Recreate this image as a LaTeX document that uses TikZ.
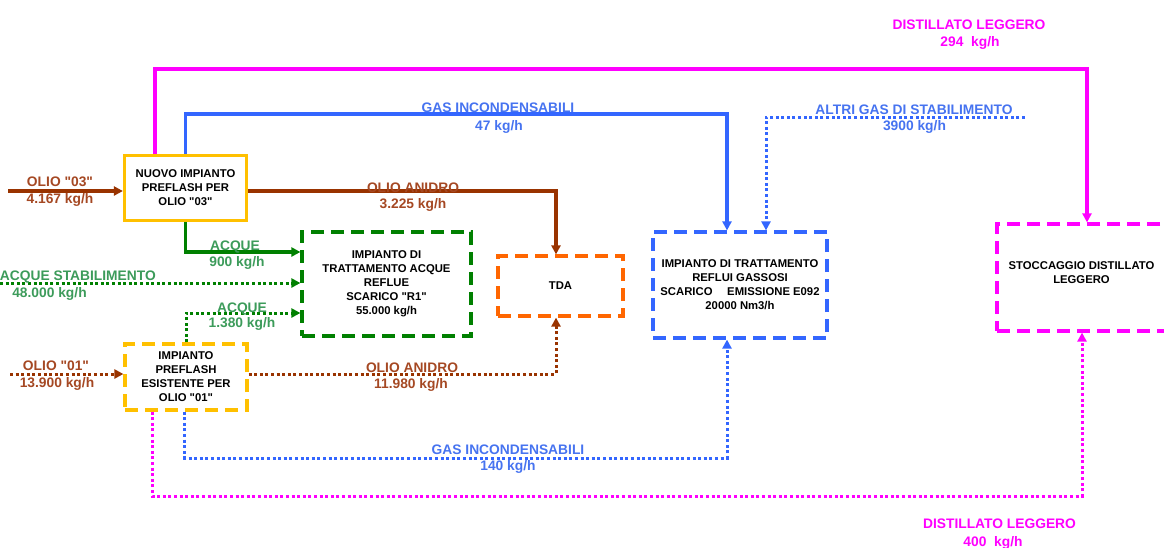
\documentclass[tikz,border=0pt]{standalone}
\usepackage{fontspec}
\setmainfont{Liberation Sans}[Ligatures=TeXOff]
\usetikzlibrary{arrows.meta}
\definecolor{brn}{RGB}{153,51,0}
\definecolor{brntxt}{RGB}{165,72,35}
\definecolor{grn}{RGB}{0,128,0}
\definecolor{grntxt}{RGB}{60,155,90}
\definecolor{blu}{RGB}{51,102,255}
\definecolor{blutxt}{RGB}{70,115,240}
\definecolor{mag}{RGB}{255,0,255}
\definecolor{yel}{RGB}{255,192,0}
\definecolor{org}{RGB}{255,102,0}
\begin{document}
\begin{tikzpicture}[x=1pt,y=-1pt,
  solidline/.style={line width=3.3pt},
  dotline/.style={line width=3pt, dash pattern=on 3pt off 2.6pt},
  arrowed/.style={-{Triangle[length=9pt,width=9pt]}},
  box/.style={draw, line width=3.2pt, fill=white, align=center,
    font=\fontsize{11.3}{14}\selectfont\bfseries, inner sep=0pt},
  dbox/.style={box, dash pattern=on 13pt off 7pt},
  boxtxt/.style={align=center, font=\fontsize{11.3}{14}\selectfont\bfseries, inner sep=0pt},
  lbl/.style={font=\fontsize{13.8}{16}\selectfont\bfseries, anchor=base, inner sep=0pt},
]
\useasboundingbox (0,0) rectangle (1164,547);

% boxes
\node[box, draw=yel, minimum width=122pt, minimum height=65pt] (N) at (185.5,188)
  {NUOVO IMPIANTO\\PREFLASH PER\\OLIO "03"};
\node[dbox, draw=yel, minimum width=122pt, minimum height=66pt] (E) at (186,377)
  {IMPIANTO\\PREFLASH\\ESISTENTE PER\\OLIO "01"};
\node[dbox, draw=grn, minimum width=169pt, minimum height=104pt] (R) at (386.5,284)
  {IMPIANTO DI\\TRATTAMENTO ACQUE\\REFLUE\\SCARICO "R1"\\55.000 kg/h};
\node[dbox, draw=org, minimum width=125pt, minimum height=60pt] (T) at (560.5,286) {TDA};
\node[dbox, draw=blu, minimum width=174pt, minimum height=106pt] (G) at (740,285)
  {IMPIANTO DI TRATTAMENTO\\REFLUI GASSOSI\\SCARICO\hspace{1.3em}EMISSIONE E092\\20000 Nm3/h};
\node[dbox, draw=mag, minimum width=178pt, minimum height=107pt] (S) at (1086,277.5) {};
\node[boxtxt] (Stxt) at ([xshift=-4.5pt,yshift=5pt]S.center) {STOCCAGGIO DISTILLATO\\LEGGERO};

% coordinates for free ends / corners
\coordinate (m1) at (1087,69);
\coordinate (b1) at (727,114);
\coordinate (a1) at (1025,117);
\coordinate (a2) at (766,117);
\coordinate (o3) at (8,191);
\coordinate (gs) at (0,283);
\coordinate (o1) at (10,374);
\coordinate (b2) at (727,458);
\coordinate (m2) at (1082,496);

% connectors
\draw[solidline, mag, arrowed] ([xshift=-30.5pt]N.north) |- (m1) -- (m1 |- S.north);
\draw[solidline, blu, arrowed] (N.north) |- (b1) -- (b1 |- G.north);
\draw[dotline, blu, arrowed] (a1) -- (a2) -- (a2 |- G.north);
\draw[solidline, brn, arrowed] (o3) -- ([yshift=-3pt]N.west);
\draw[solidline, brn, arrowed] ([yshift=-3pt]N.east) -| ([xshift=-4.5pt]T.north);
\draw[solidline, grn, arrowed] (N.south) |- ([yshift=32pt]R.west);
\draw[dotline, grn, arrowed] (gs) -- (gs -| R.west);
\draw[dotline, grn, arrowed] (E.north) |- ([yshift=-29pt]R.west);
\draw[dotline, brn, arrowed] (o1) -- ([yshift=3pt]E.west);
\draw[dotline, brn, arrowed] ([yshift=3pt]E.east) -| ([xshift=-4.5pt]T.south);
\draw[dotline, blu, arrowed] ([xshift=-1.5pt]E.south) |- (b2) -- (b2 |- G.south);
\draw[dotline, mag, arrowed] ([xshift=-34pt]E.south) |- (m2) -- (m2 |- S.south);

% labels
\node[lbl, mag] (l1a) at (969,29) {DISTILLATO LEGGERO};
\node[lbl, mag] (l1b) at (970,46) {294\ \ kg/h};
\node[lbl, blutxt] (l2a) at (498,112) {GAS INCONDENSABILI};
\node[lbl, blutxt] (l2b) at (499,130) {47 kg/h};
\node[lbl, blutxt] (l3a) at (914,114) {ALTRI GAS DI STABILIMENTO};
\node[lbl, blutxt] (l3b) at (914.5,130) {3900 kg/h};
\node[lbl, brntxt] (l4a) at (60,186) {OLIO "03"};
\node[lbl, brntxt] (l4b) at (60,203) {4.167 kg/h};
\node[lbl, brntxt] (l5a) at (413,192) {OLIO ANIDRO};
\node[lbl, brntxt] (l5b) at (413,208) {3.225 kg/h};
\node[lbl, grntxt] (l6a) at (235,250) {ACQUE};
\node[lbl, grntxt] (l6b) at (237,266) {900 kg/h};
\node[lbl, grntxt, anchor=base east] (l7a) at (156,280) {ACQUE STABILIMENTO};
\node[lbl, grntxt] (l7b) at (49.5,297) {48.000 kg/h};
\node[lbl, grntxt] (l8a) at (242,312) {ACQUE};
\node[lbl, grntxt] (l8b) at (242,327) {1.380 kg/h};
\node[lbl, brntxt] (l9a) at (56,370) {OLIO "01"};
\node[lbl, brntxt] (l9b) at (57,387) {13.900 kg/h};
\node[lbl, brntxt] (l10a) at (412,372) {OLIO ANIDRO};
\node[lbl, brntxt] (l10b) at (411,388) {11.980 kg/h};
\node[lbl, blutxt] (l11a) at (508,454) {GAS INCONDENSABILI};
\node[lbl, blutxt] (l11b) at (508,470) {140 kg/h};
\node[lbl, mag] (l12a) at (999.5,528) {DISTILLATO LEGGERO};
\node[lbl, mag] (l12b) at (993,546) {400\ \ kg/h};
\end{tikzpicture}
\end{document}
